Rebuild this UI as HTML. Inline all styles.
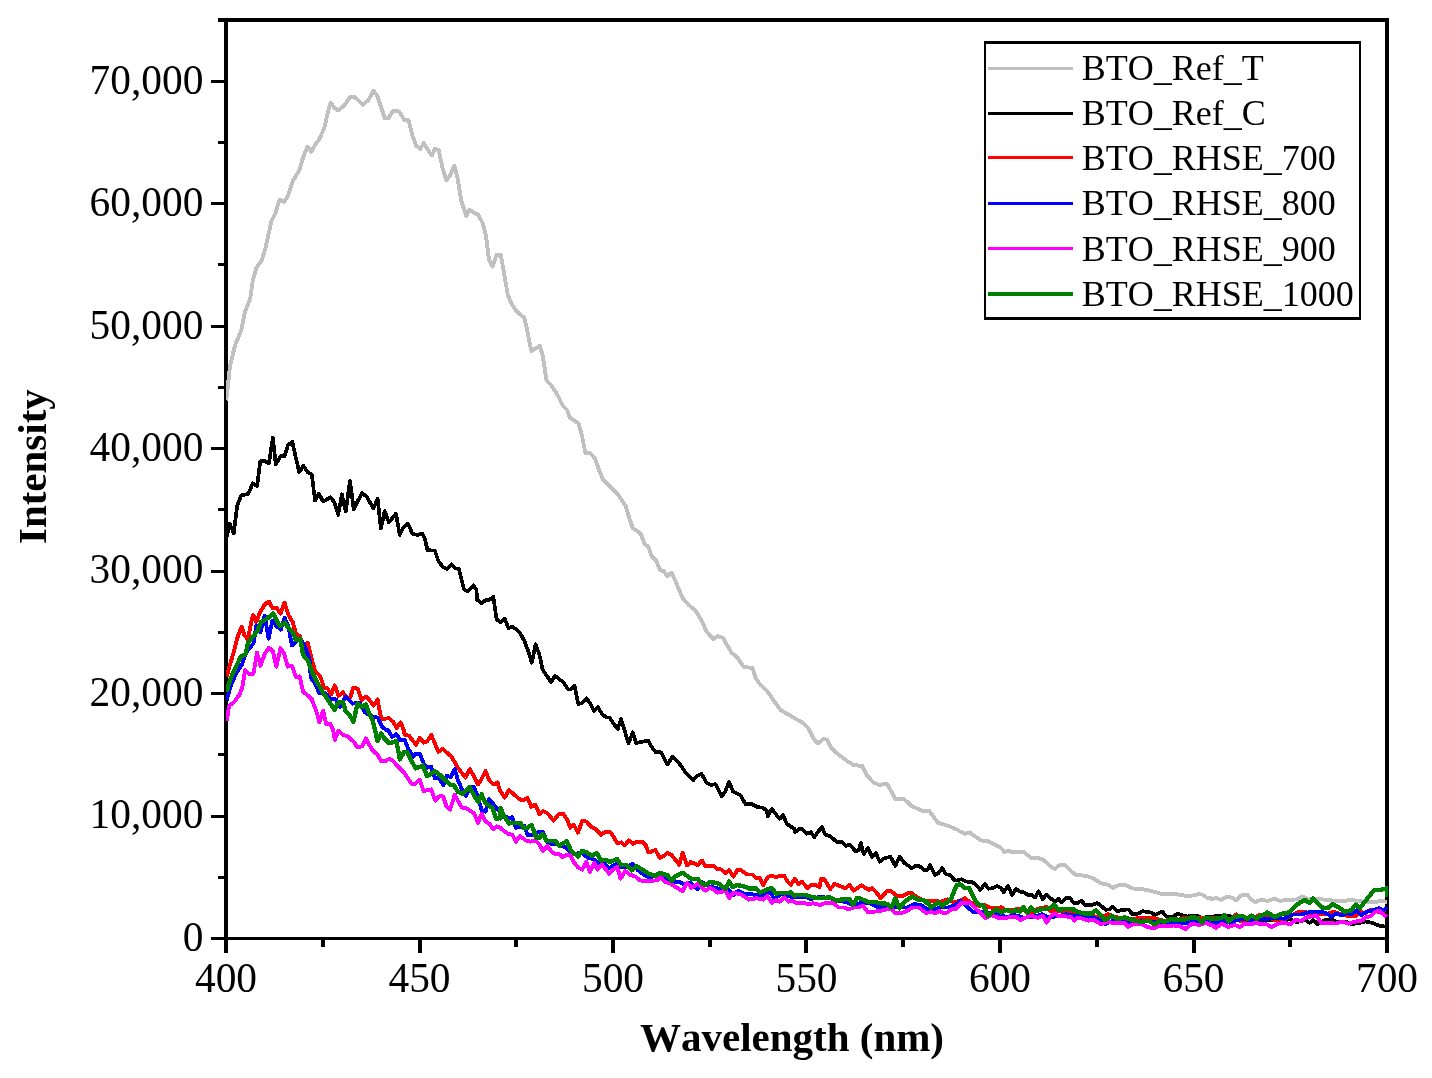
<!DOCTYPE html>
<html lang="en"><head><meta charset="utf-8"><title>PL spectra</title>
<style>html,body{margin:0;padding:0;background:#fff}body{width:1432px;height:1078px;overflow:hidden}</style></head>
<body>
<svg width="1432" height="1078" viewBox="0 0 1432 1078" style="display:block">
<rect width="1432" height="1078" fill="#fff"/>
<g shape-rendering="crispEdges">
<rect x="224" y="18" width="4" height="922" fill="#000"/>
<rect x="1385" y="18" width="4" height="922" fill="#000"/>
<rect x="224" y="18" width="1165" height="4" fill="#000"/>
<rect x="224" y="937" width="1165" height="3" fill="#000"/>
<rect x="211" y="937" width="14" height="3" fill="#000"/>
<rect x="218" y="876" width="7" height="3" fill="#000"/>
<rect x="211" y="815" width="14" height="3" fill="#000"/>
<rect x="218" y="753" width="7" height="3" fill="#000"/>
<rect x="211" y="692" width="14" height="3" fill="#000"/>
<rect x="218" y="631" width="7" height="3" fill="#000"/>
<rect x="211" y="570" width="14" height="3" fill="#000"/>
<rect x="218" y="508" width="7" height="3" fill="#000"/>
<rect x="211" y="447" width="14" height="3" fill="#000"/>
<rect x="218" y="386" width="7" height="3" fill="#000"/>
<rect x="211" y="325" width="14" height="3" fill="#000"/>
<rect x="218" y="263" width="7" height="3" fill="#000"/>
<rect x="211" y="202" width="14" height="3" fill="#000"/>
<rect x="218" y="141" width="7" height="3" fill="#000"/>
<rect x="211" y="80" width="14" height="3" fill="#000"/>
<rect x="218" y="18" width="7" height="4" fill="#000"/>
<rect x="224" y="939" width="4" height="14.3" fill="#000"/>
<rect x="321" y="939" width="4" height="7.7" fill="#000"/>
<rect x="418" y="939" width="4" height="14.3" fill="#000"/>
<rect x="514" y="939" width="4" height="7.7" fill="#000"/>
<rect x="611" y="939" width="4" height="14.3" fill="#000"/>
<rect x="708" y="939" width="4" height="7.7" fill="#000"/>
<rect x="804" y="939" width="4" height="14.3" fill="#000"/>
<rect x="901" y="939" width="4" height="7.7" fill="#000"/>
<rect x="998" y="939" width="4" height="14.3" fill="#000"/>
<rect x="1095" y="939" width="4" height="7.7" fill="#000"/>
<rect x="1192" y="939" width="4" height="14.3" fill="#000"/>
<rect x="1288" y="939" width="4" height="7.7" fill="#000"/>
<rect x="1385" y="939" width="4" height="14.3" fill="#000"/>
</g>
<clipPath id="cp"><rect x="226" y="20" width="1162.2" height="919"/></clipPath>
<g clip-path="url(#cp)" shape-rendering="crispEdges">
<polyline points="226.3,400.4 230.1,365.3 235.1,345.1 241.4,330.0 245.1,311.4 250.2,298.8 252.7,281.2 256.5,267.4 261.5,261.1 265.3,248.5 271.5,220.9 275.3,213.4 279.6,199.5 284.1,202.0 287.9,195.8 292.9,180.7 299.2,170.6 303.0,158.0 307.5,146.7 311.3,151.8 315.5,144.2 319.3,139.2 324.3,127.9 328.1,111.5 330.6,102.7 334.4,107.8 338.2,110.3 344.4,105.3 350.0,97.2 354.5,97.0 358.3,100.2 362.8,104.7 368.3,100.2 373.4,90.9 377.1,95.2 380.9,106.5 384.7,118.3 388.4,118.3 393.0,111.0 399.0,111.5 404.3,119.8 408.5,120.3 412.3,135.4 416.1,145.5 420.4,149.2 423.6,143.0 427.4,149.2 431.9,155.5 434.9,148.7 438.7,150.0 442.5,168.1 446.3,180.2 450.0,175.6 454.3,165.6 457.6,178.2 461.3,200.8 466.4,216.4 469.6,209.6 473.9,212.8 478.2,214.6 482.7,223.4 486.0,236.0 489.0,259.9 492.8,266.6 496.5,254.8 500.8,254.8 504.1,273.7 507.8,295.1 511.6,303.9 516.6,311.4 524.2,317.7 527.2,330.0 531.4,351.0 539.7,346.0 542.7,355.3 546.5,380.4 551.5,385.5 557.8,395.5 562.8,405.6 567.4,410.6 569.9,417.7 578.4,423.2 581.7,434.5 585.5,453.4 590.5,453.4 595.0,458.4 599.3,470.9 603.1,479.7 609.4,486.0 618.2,494.8 625.7,506.1 629.5,518.7 632.7,528.0 640.8,533.8 644.6,543.9 648.3,546.4 651.6,555.9 655.9,560.2 659.6,569.0 660.1,570.1 663.8,571.3 667.1,576.3 671.4,572.6 675.1,580.1 682.7,598.2 689.0,605.3 695.3,610.3 701.5,620.3 706.6,631.6 713.4,639.2 717.9,636.2 722.9,637.9 731.7,653.0 736.7,656.8 743.5,666.8 752.6,668.1 755.6,678.2 760.6,684.9 766.9,690.7 775.7,703.3 780.7,710.1 790.8,715.9 797.1,719.6 802.1,722.2 808.4,728.4 813.4,738.5 817.9,743.5 823.5,739.0 827.2,739.7 831.0,747.3 837.3,753.6 847.3,761.1 853.6,764.9 862.4,766.1 867.5,776.2 873.7,782.5 879.3,785.0 886.8,783.7 891.3,791.3 895.1,798.8 903.9,798.8 911.5,805.9 921.5,810.6 929.1,810.6 937.8,822.7 947.9,825.7 958.0,830.0 959.3,831.2 965.2,833.7 969.4,832.4 981.1,840.4 987.8,841.3 994.5,844.6 1001.2,848.0 1004.6,852.2 1007.9,850.5 1012.1,852.2 1020.0,852.2 1024.0,852.2 1030.9,857.7 1037.9,858.0 1043.5,859.8 1050.5,866.5 1054.7,868.9 1060.3,864.7 1065.2,865.0 1070.1,870.3 1075.6,874.8 1082.6,875.5 1088.9,876.6 1093.8,878.7 1100.8,883.3 1107.8,884.7 1112.7,887.8 1117.5,885.7 1121.7,884.7 1125.9,885.3 1132.9,888.5 1142.7,889.2 1152.5,891.3 1162.2,894.1 1172.0,893.6 1179.0,894.7 1186.0,895.9 1194.4,895.4 1198.5,894.1 1202.7,894.7 1206.9,897.8 1210.0,897.8 1211.8,899.2 1215.9,897.8 1220.8,899.9 1227.1,896.6 1232.0,897.8 1236.2,900.3 1241.8,895.0 1247.4,895.0 1250.9,899.2 1255.1,902.0 1260.6,899.9 1267.6,900.8 1274.6,898.9 1280.2,900.8 1287.2,899.9 1297.0,899.4 1301.8,896.4 1306.7,898.5 1316.5,898.5 1326.3,899.9 1334.7,900.8 1341.6,901.3 1351.4,899.9 1359.8,901.3 1368.2,901.7 1375.2,902.0 1382.2,900.8 1387.0,902.0" fill="none" stroke="#c0c0c0" stroke-width="3.9" stroke-linejoin="round" stroke-linecap="butt"/>
<polyline points="227.0,536.2 229.6,523.6 233.8,533.2 237.1,506.0 241.4,495.2 248.2,494.0 252.7,483.4 257.2,485.9 260.2,461.3 265.3,461.3 269.0,463.3 272.8,437.7 275.8,464.6 280.3,456.3 284.6,456.3 287.9,445.2 292.4,441.9 295.4,455.8 299.2,472.1 303.5,465.8 307.5,472.1 311.8,474.6 315.0,500.5 318.8,493.5 323.1,501.5 330.6,497.2 334.4,502.3 338.2,514.8 341.9,494.2 345.7,511.6 350.0,480.9 353.7,509.1 357.8,501.0 362.0,493.0 367.1,497.2 373.4,508.5 377.6,499.0 380.9,528.7 384.7,511.1 388.9,522.4 396.0,513.6 399.7,534.9 403.5,527.4 408.0,523.6 412.3,533.7 417.3,534.9 422.4,533.7 424.9,538.7 427.4,550.0 434.9,550.8 438.7,561.8 443.7,567.6 447.5,568.9 451.3,564.4 455.1,568.4 458.8,568.9 463.9,589.0 467.6,591.5 473.4,585.2 476.4,590.0 477.2,599.8 481.5,603.4 485.3,600.3 489.0,600.3 493.3,596.6 496.6,619.2 500.3,622.5 504.6,618.7 508.4,628.0 512.4,626.7 516.7,629.7 520.4,633.5 524.2,640.6 528.0,650.6 531.8,662.7 535.5,644.3 539.3,654.4 542.6,669.5 546.8,675.8 551.1,682.0 555.1,675.8 559.4,679.5 563.2,682.0 568.2,689.6 570.7,689.6 574.5,685.8 578.3,703.9 582.0,703.4 586.3,698.4 590.1,702.9 593.9,710.9 597.9,707.2 602.2,714.2 605.9,717.2 609.7,717.7 613.5,723.5 617.7,729.1 621.0,719.0 624.8,731.1 628.5,743.6 632.8,732.3 636.1,743.1 641.1,741.9 648.2,740.6 651.2,746.1 655.4,751.9 661.2,752.4 667.5,764.5 672.5,756.7 677.6,761.2 681.3,766.3 686.4,773.8 693.4,780.1 696.4,776.3 701.5,773.8 706.5,782.6 711.5,785.1 715.3,783.9 721.6,796.4 725.3,791.4 729.1,781.8 732.9,791.4 740.4,795.2 745.4,804.0 751.7,804.0 757.3,807.0 763.0,807.7 766.8,811.0 767.7,816.4 771.9,808.9 779.5,818.9 783.2,815.2 787.0,824.0 794.6,829.0 795.1,832.1 799.3,828.7 802.6,829.2 806.8,833.7 811.0,832.1 814.4,837.1 818.5,831.2 821.9,827.0 825.3,834.6 830.3,836.3 837.0,842.1 842.0,841.8 846.2,846.0 849.6,844.6 855.4,851.0 858.8,850.5 860.8,843.0 863.8,853.9 868.0,848.0 872.2,857.2 876.0,853.0 879.7,861.7 884.7,858.0 890.6,856.9 895.3,865.9 899.8,856.4 904.0,862.6 911.6,868.1 915.8,865.9 919.9,866.4 924.1,870.3 927.5,869.8 930.0,864.7 935.0,874.8 938.4,873.1 942.2,868.1 945.9,874.0 950.1,875.3 955.1,880.7 961.8,879.3 966.0,881.5 972.7,882.3 976.9,885.7 980.3,889.9 984.8,884.0 988.7,888.7 992.8,888.2 997.0,886.0 1001.2,888.2 1003.7,892.4 1007.9,885.7 1012.1,894.9 1016.0,889.1 1020.0,891.6 1023.3,892.0 1027.5,894.7 1031.6,894.7 1035.1,897.5 1038.6,891.3 1042.8,899.6 1046.3,894.5 1049.8,897.5 1054.7,901.7 1058.2,898.7 1061.7,902.4 1065.9,898.2 1070.1,898.2 1074.2,903.4 1077.7,903.1 1081.2,900.6 1085.4,905.2 1092.4,904.8 1097.3,903.1 1101.5,906.2 1105.7,909.8 1109.2,909.4 1112.7,906.6 1117.5,911.2 1121.7,910.1 1128.7,909.4 1132.2,914.0 1138.5,913.6 1142.7,911.2 1151.1,912.6 1155.3,915.0 1158.0,913.6 1162.2,911.5 1166.4,916.4 1173.4,916.4 1177.6,913.6 1181.8,915.0 1187.4,916.4 1193.0,915.7 1197.2,915.7 1201.3,917.8 1211.8,916.6 1225.0,915.2 1228.5,915.9 1256.5,921.5 1267.6,920.1 1278.8,920.8 1290.0,919.4 1297.0,922.2 1305.3,920.1 1309.5,922.9 1313.4,920.1 1317.9,924.3 1324.9,920.1 1331.9,919.4 1336.1,921.5 1345.8,921.5 1351.4,924.3 1359.8,922.9 1365.4,921.5 1372.4,922.9 1379.4,925.7 1386.6,926.8" fill="none" stroke="#000" stroke-width="3.7" stroke-linejoin="round" stroke-linecap="butt"/>
<polyline points="226.7,676.4 229.8,665.2 234.0,651.2 237.5,637.3 241.6,626.8 244.4,635.2 247.9,639.4 250.7,624.7 253.1,614.9 256.3,621.9 259.8,612.8 264.7,604.4 268.9,601.6 272.8,608.6 276.6,607.9 280.5,613.5 284.5,602.6 288.4,614.9 292.6,621.9 296.1,633.8 299.6,635.9 303.8,647.0 307.7,642.6 311.5,658.2 315.0,670.8 319.9,675.7 324.1,687.5 327.5,688.2 331.0,694.5 334.8,685.4 338.4,695.9 342.9,692.4 346.4,697.3 349.9,698.4 353.4,687.5 357.6,688.7 361.8,700.1 365.9,696.6 369.4,700.1 373.6,705.7 377.5,699.4 381.3,719.0 389.0,718.3 393.2,721.8 396.7,728.0 400.6,722.5 403.7,730.0 404.7,734.9 408.9,735.6 415.9,744.7 419.8,737.7 423.6,742.6 427.1,741.2 431.3,734.9 434.8,743.3 438.3,751.7 442.5,748.9 446.6,752.4 451.5,756.6 457.8,767.7 465.5,777.5 469.7,769.1 473.9,776.1 478.1,784.5 481.6,778.9 485.5,770.9 489.2,780.3 493.4,784.5 497.6,782.4 500.0,790.8 501.2,792.1 504.7,797.7 508.9,790.0 513.0,793.5 519.3,799.1 523.5,800.5 527.4,797.7 531.2,806.8 535.4,804.7 539.6,814.5 543.1,811.0 547.3,813.1 553.5,820.8 559.1,813.8 563.3,813.8 567.5,820.1 570.3,827.7 573.8,824.9 578.0,832.6 582.2,820.8 586.4,821.5 590.6,826.3 595.4,829.1 601.0,834.7 605.2,831.9 610.1,831.9 613.6,836.8 617.1,843.1 621.3,842.4 624.8,845.5 628.7,840.3 633.2,843.8 637.3,841.7 642.2,841.7 645.7,845.2 648.5,852.5 655.5,850.1 659.7,857.8 663.2,856.4 667.4,852.9 671.6,855.0 679.2,864.7 682.7,852.9 686.9,865.4 690.0,863.4 690.7,861.9 694.2,863.3 697.7,865.4 701.9,860.5 705.4,866.1 713.1,865.7 717.3,868.9 721.5,869.6 725.6,873.1 729.1,869.9 733.3,876.6 737.5,869.9 741.0,870.3 747.3,874.5 752.2,874.5 756.4,878.0 759.9,878.0 763.4,885.0 767.5,877.3 771.0,875.5 775.9,877.3 780.0,875.6 784.2,875.6 787.5,881.5 790.9,884.9 794.7,878.7 798.4,884.0 801.8,881.5 807.7,888.2 811.0,884.9 816.0,884.9 819.4,887.4 821.1,879.0 823.9,879.0 827.8,884.9 830.3,889.1 834.5,884.0 845.4,888.2 849.6,884.9 853.7,890.7 861.3,885.4 868.8,889.9 872.2,888.2 876.4,892.4 880.6,898.3 887.3,890.7 890.6,890.7 897.3,896.1 903.2,895.8 908.2,893.2 911.6,893.2 919.1,898.3 924.1,900.4 930.8,900.8 940.9,901.6 947.6,899.4 954.3,902.5 959.3,900.8 961.8,899.9 965.2,898.3 970.2,902.5 974.4,903.3 979.4,905.8 984.5,905.0 989.5,907.5 997.9,907.8 1001.2,907.2 1005.4,910.0 1014.6,909.5 1020.0,909.2 1032.3,912.9 1037.9,908.7 1046.3,907.0 1050.5,911.5 1054.7,910.1 1070.1,912.9 1085.4,913.6 1099.4,917.8 1107.8,914.3 1116.1,917.1 1125.9,919.9 1135.7,918.5 1144.1,917.8 1155.3,918.5 1163.6,920.6 1177.6,919.9 1184.6,917.8 1210.0,918.5 1211.8,918.0 1231.3,918.7 1236.2,914.5 1241.1,921.5 1245.3,920.1 1253.7,917.3 1259.2,915.2 1267.6,915.9 1274.6,920.1 1285.8,918.7 1292.8,914.5 1299.7,911.7 1306.7,912.4 1316.5,914.5 1324.9,914.5 1333.3,911.7 1340.3,913.8 1347.2,915.9 1355.6,915.9 1360.5,911.7 1365.4,913.1 1371.0,909.6 1378.0,911.7 1386.3,910.3" fill="none" stroke="#ff0000" stroke-width="3.9" stroke-linejoin="round" stroke-linecap="butt"/>
<polyline points="226.7,700.1 231.2,684.1 236.8,672.2 242.3,663.8 244.4,656.8 247.9,649.8 253.5,643.5 256.3,625.4 260.5,632.4 264.7,615.6 268.6,638.7 272.4,620.5 276.6,626.1 280.8,629.6 284.5,617.7 288.4,626.1 291.9,645.6 296.1,641.5 300.3,638.7 303.8,644.2 309.4,658.2 310.8,677.8 315.0,683.4 319.2,693.1 324.7,693.1 330.3,698.7 335.9,699.4 340.1,707.1 345.7,696.6 352.7,703.6 359.7,702.9 365.3,712.7 372.2,716.2 377.8,717.6 382.0,726.6 386.2,730.0 388.0,730.0 392.2,737.0 396.4,734.2 400.6,740.5 404.7,739.8 408.2,748.9 413.1,756.6 415.9,753.8 420.1,753.8 423.6,763.5 427.1,767.7 431.3,767.0 434.8,778.2 439.0,777.5 443.2,785.2 446.6,776.1 450.8,776.8 454.7,769.1 457.8,779.6 462.0,789.4 466.2,795.7 469.7,787.3 473.9,786.6 478.1,797.8 481.6,810.3 485.5,811.7 489.2,799.2 493.4,804.1 496.9,808.2 500.0,811.7 500.5,818.7 504.0,815.2 508.2,818.0 512.3,817.3 515.8,827.7 520.0,827.0 524.2,825.6 527.7,835.4 531.9,834.7 538.9,831.9 543.1,831.9 547.3,842.4 551.5,843.8 557.0,843.8 565.4,847.3 569.6,851.5 575.2,853.6 582.2,852.9 587.8,857.8 593.4,859.2 598.9,863.4 604.5,863.4 609.4,868.2 615.7,864.1 620.6,867.5 626.2,867.5 632.5,864.1 638.0,870.3 643.6,874.5 649.2,877.3 656.2,875.9 663.2,876.6 667.4,880.1 674.4,882.2 679.9,882.2 685.5,885.0 690.0,882.9 690.7,882.9 697.7,889.2 701.9,882.2 708.9,886.4 715.9,887.8 721.5,889.9 728.4,889.2 733.3,895.4 738.2,890.6 743.8,893.4 750.8,894.1 757.8,895.4 763.4,894.7 770.3,892.0 773.8,898.2 778.7,896.1 780.0,894.1 790.1,896.6 796.8,897.4 805.1,896.6 811.0,899.1 820.2,896.6 830.3,898.3 838.7,900.8 847.0,902.1 853.7,905.8 862.1,902.5 870.5,903.3 876.4,906.6 883.9,906.6 888.9,905.8 897.3,907.5 907.4,907.5 914.1,904.1 920.8,905.0 925.8,908.3 930.8,910.0 940.9,907.5 947.6,907.5 954.3,905.8 961.0,900.8 966.0,905.8 972.7,911.7 981.1,911.7 987.8,913.4 997.9,913.4 1006.3,917.5 1014.6,915.0 1020.0,916.7 1024.0,917.8 1035.1,916.4 1042.1,914.3 1047.7,917.1 1057.5,916.4 1065.9,914.3 1074.2,915.7 1085.4,917.1 1096.6,918.5 1105.0,924.1 1113.4,920.6 1121.7,921.3 1128.7,923.4 1138.5,920.6 1149.7,921.3 1158.0,922.7 1166.4,923.4 1174.8,923.4 1183.2,923.4 1191.6,922.0 1198.5,920.6 1205.5,920.6 1210.0,922.0 1211.8,921.5 1215.9,923.6 1222.9,920.4 1229.9,922.9 1236.9,920.1 1243.9,918.7 1250.9,920.1 1257.8,918.7 1267.6,918.7 1276.0,918.0 1284.4,918.7 1292.8,914.5 1301.1,914.5 1308.1,912.4 1313.7,911.5 1320.7,911.7 1326.3,913.1 1331.2,916.6 1336.1,913.8 1341.6,915.2 1347.2,913.1 1351.4,914.5 1356.3,910.3 1361.2,915.2 1366.8,911.7 1372.4,910.3 1379.4,908.2 1383.5,910.3 1386.6,907.3" fill="none" stroke="#0000ff" stroke-width="3.9" stroke-linejoin="round" stroke-linecap="butt"/>
<polyline points="226.7,721.1 229.1,705.7 234.0,702.2 239.6,694.5 242.3,687.5 245.1,670.1 249.3,674.3 253.5,673.6 257.0,652.6 260.5,665.9 264.7,654.0 268.9,647.7 272.8,651.2 276.3,666.6 280.5,648.2 284.2,654.0 287.7,666.6 291.9,665.9 296.1,677.1 299.6,676.4 303.1,691.7 307.3,695.2 311.5,698.7 316.4,711.3 319.4,722.5 323.1,710.6 326.1,723.9 330.3,723.9 333.1,730.0 334.9,739.8 338.4,730.7 343.3,734.9 347.5,736.3 353.8,741.9 357.5,747.5 362.2,746.1 365.9,738.4 368.4,743.3 372.6,750.3 377.5,754.5 381.0,760.8 384.5,761.5 389.4,758.7 392.9,760.8 397.8,766.3 404.7,773.3 408.2,778.9 411.7,783.8 415.2,783.8 419.8,779.6 423.6,791.5 427.1,790.1 431.3,789.4 435.2,800.6 439.0,796.4 443.2,796.4 446.6,806.8 450.1,809.6 454.7,795.0 457.8,800.6 462.0,807.5 466.2,808.2 473.9,813.1 478.1,822.9 481.6,813.8 485.5,821.5 489.2,823.6 493.4,829.2 496.9,826.4 500.0,827.8 502.6,829.8 508.2,834.0 512.3,834.7 515.8,841.7 520.0,836.1 525.6,840.3 530.5,841.7 535.4,840.7 538.9,843.8 542.8,850.8 547.3,845.9 550.8,850.8 554.2,853.6 559.1,853.9 562.6,857.1 566.8,855.0 570.3,855.0 573.8,862.0 578.0,867.5 582.2,869.6 586.4,862.0 589.9,871.7 594.1,862.7 597.5,869.6 601.7,864.1 605.9,869.6 609.4,873.8 612.9,869.6 617.1,866.8 620.6,878.7 625.2,871.0 629.7,874.5 635.3,876.6 640.1,880.4 647.8,881.5 657.6,880.1 660.4,877.0 664.6,881.5 670.2,883.6 675.8,887.1 682.7,891.3 686.9,882.9 690.0,885.7 690.7,887.8 694.2,886.4 697.7,883.6 701.9,887.8 705.4,890.6 709.6,887.8 713.1,889.2 717.3,892.7 721.5,892.0 725.6,889.9 729.1,898.2 733.3,892.7 740.3,894.1 743.8,896.1 748.7,899.6 756.4,898.2 763.4,899.6 767.5,896.1 771.7,902.8 775.9,900.3 779.4,901.7 780.0,901.6 784.2,897.4 788.4,901.6 792.6,900.8 796.8,903.3 801.8,902.5 808.5,904.1 813.5,903.3 820.2,905.0 826.9,902.5 833.6,903.3 838.7,907.5 843.7,907.5 848.7,909.2 853.7,907.5 858.8,907.5 863.0,905.5 868.0,912.5 873.9,911.7 880.6,910.8 887.3,909.2 891.5,909.2 895.6,913.4 900.7,913.4 907.4,910.8 912.4,907.5 919.1,907.5 925.8,912.8 930.8,912.2 935.9,913.0 939.2,910.8 942.6,912.8 947.6,912.5 950.9,909.5 956.0,908.8 961.8,902.8 970.2,903.3 975.3,908.3 981.1,913.4 985.3,918.4 991.2,915.0 999.6,918.4 1007.9,917.5 1016.3,916.7 1020.0,920.1 1025.4,917.8 1030.9,915.7 1037.9,917.8 1042.8,915.7 1046.6,922.7 1050.5,916.4 1054.7,913.6 1058.9,916.4 1065.9,916.4 1071.5,917.4 1074.2,920.6 1077.7,917.8 1082.6,918.5 1088.2,920.6 1093.8,919.9 1100.8,924.1 1107.8,922.0 1116.1,923.4 1124.5,922.7 1128.0,926.9 1132.9,924.1 1141.3,924.1 1147.6,926.9 1153.9,928.3 1159.4,925.5 1166.4,926.2 1173.4,925.5 1180.4,926.2 1185.3,929.0 1191.6,924.1 1199.9,924.8 1205.5,922.7 1210.0,924.8 1211.8,925.0 1215.9,927.8 1222.2,923.6 1228.5,927.1 1234.8,925.0 1239.7,927.1 1245.3,923.6 1250.9,924.3 1256.5,922.6 1260.6,924.3 1266.2,924.0 1271.1,927.1 1278.8,923.6 1284.4,922.9 1290.0,924.3 1295.6,920.1 1301.1,920.8 1306.7,917.3 1310.9,916.6 1316.5,915.9 1321.4,922.9 1327.7,922.9 1336.1,923.6 1341.6,921.5 1348.6,923.6 1355.6,921.5 1361.2,920.8 1366.1,917.3 1371.0,915.9 1375.2,911.7 1379.4,911.0 1383.5,914.5 1386.6,917.0" fill="none" stroke="#ff00ff" stroke-width="3.9" stroke-linejoin="round" stroke-linecap="butt"/>
<polyline points="226.7,691.7 229.8,680.6 234.0,670.8 240.9,656.5 245.8,654.0 247.9,642.8 253.5,635.9 257.7,630.3 261.2,621.9 267.5,618.4 273.1,613.5 276.6,620.5 280.1,626.1 284.9,622.6 288.4,628.2 292.6,631.7 296.1,640.1 300.3,638.7 303.1,654.7 308.0,661.0 312.2,672.2 317.8,683.4 324.1,694.5 328.2,700.1 334.5,709.9 338.7,702.2 342.9,701.8 345.7,711.3 349.9,715.5 353.4,721.8 357.6,703.6 361.8,707.1 365.9,704.3 369.4,714.1 372.9,721.1 375.0,730.0 377.5,741.2 381.0,733.5 383.8,737.7 389.4,743.3 396.4,741.2 399.9,759.4 404.1,751.7 407.5,752.4 411.7,761.5 415.9,768.4 422.9,765.6 427.1,776.1 434.8,771.2 439.7,774.7 445.3,780.3 450.1,784.5 454.3,785.5 457.8,791.9 462.7,793.6 469.7,787.3 473.9,795.0 478.1,802.0 481.6,794.3 485.5,803.4 492.7,808.2 496.2,818.7 500.0,818.0 500.5,808.2 504.0,815.9 508.9,823.5 513.7,822.8 520.0,822.8 524.2,828.4 527.7,827.7 531.6,824.9 536.1,837.5 538.9,838.2 542.8,834.0 546.6,841.0 551.5,841.0 555.6,841.0 559.1,845.9 562.6,843.8 566.8,841.0 571.0,850.8 578.0,856.4 582.2,850.8 586.4,852.2 591.3,855.7 596.8,852.9 601.0,860.6 605.9,859.9 610.1,862.0 617.1,858.9 620.6,864.7 626.2,864.7 631.8,870.3 636.6,866.1 642.2,869.6 648.5,873.8 655.5,875.9 659.7,872.8 667.4,875.2 671.6,880.8 675.8,875.9 682.7,872.8 690.0,878.0 690.7,878.7 697.7,878.7 701.9,883.6 705.4,885.0 709.6,882.2 717.3,882.9 721.5,885.7 725.6,889.2 729.4,881.5 732.6,887.1 736.8,885.0 743.8,886.4 749.4,888.5 755.7,888.5 759.9,892.7 766.1,889.9 771.7,887.8 775.9,893.4 780.0,893.2 786.7,893.2 790.9,892.4 794.2,895.8 797.6,894.9 805.1,894.9 813.5,897.4 819.4,898.3 830.3,897.4 837.0,900.8 841.2,899.4 849.6,899.1 852.9,905.0 857.1,897.9 860.4,898.6 868.8,902.1 875.5,902.1 880.6,903.3 887.3,903.8 891.5,907.5 895.3,898.3 899.3,908.3 905.7,900.8 912.4,896.6 919.1,899.9 923.3,899.9 925.8,902.5 927.5,901.6 930.8,907.5 938.4,902.5 942.6,905.8 950.9,899.1 956.8,884.9 960.2,884.5 964.4,887.7 969.4,888.2 974.4,899.1 977.8,904.1 983.6,905.8 987.8,915.9 996.2,909.2 1001.2,912.5 1006.3,910.0 1011.3,911.7 1016.3,910.0 1020.0,911.7 1023.3,907.0 1027.5,912.9 1030.9,907.3 1035.1,911.5 1040.7,909.4 1047.7,908.7 1051.2,907.3 1054.4,904.8 1058.2,909.8 1065.9,908.7 1073.5,909.4 1078.4,912.2 1084.0,913.6 1091.7,913.6 1095.9,910.4 1100.8,915.0 1105.0,920.2 1112.0,915.7 1117.5,919.2 1124.5,917.4 1131.5,919.9 1141.3,922.0 1148.3,920.6 1154.6,924.4 1160.1,920.6 1164.3,922.0 1170.6,919.2 1180.4,919.9 1187.4,919.2 1191.6,917.4 1197.2,917.8 1202.0,922.4 1204.8,918.2 1210.0,918.2 1210.4,919.4 1215.3,918.7 1220.8,918.0 1225.0,915.6 1228.5,921.5 1233.4,917.0 1242.5,915.9 1247.4,918.7 1251.6,915.6 1256.5,918.7 1259.9,915.9 1263.4,915.2 1267.3,912.4 1274.6,917.0 1281.6,913.8 1287.9,913.1 1298.4,903.6 1305.3,899.9 1309.5,903.1 1313.4,898.5 1321.4,907.3 1327.7,908.2 1332.6,904.1 1338.9,907.5 1344.4,911.7 1351.4,910.3 1355.6,904.7 1359.8,908.2 1366.8,899.2 1374.5,889.8 1380.8,889.8 1386.3,888.3 1387.6,896.5" fill="none" stroke="#008000" stroke-width="4.4" stroke-linejoin="round" stroke-linecap="butt"/>
</g>
<g font-family="Liberation Serif, serif" font-size="41.4" fill="#000" style="font-kerning:none">
<text x="203.4" y="950.8" text-anchor="end">0</text>
<text x="203.4" y="828.3" text-anchor="end">10,000</text>
<text x="203.4" y="705.9" text-anchor="end">20,000</text>
<text x="203.4" y="583.4" text-anchor="end">30,000</text>
<text x="203.4" y="460.9" text-anchor="end">40,000</text>
<text x="203.4" y="338.5" text-anchor="end">50,000</text>
<text x="203.4" y="216.0" text-anchor="end">60,000</text>
<text x="203.4" y="93.5" text-anchor="end">70,000</text>
<text x="226.0" y="992.2" text-anchor="middle">400</text>
<text x="419.5" y="992.2" text-anchor="middle">450</text>
<text x="613.0" y="992.2" text-anchor="middle">500</text>
<text x="806.5" y="992.2" text-anchor="middle">550</text>
<text x="1000.0" y="992.2" text-anchor="middle">600</text>
<text x="1193.5" y="992.2" text-anchor="middle">650</text>
<text x="1387.0" y="992.2" text-anchor="middle">700</text>
</g>
<g font-family="Liberation Serif, serif" font-weight="bold" font-size="41" fill="#000" style="font-kerning:none">
<text x="792" y="1050.8" text-anchor="middle">Wavelength (nm)</text>
<text transform="translate(45.9,466.6) rotate(-90)" text-anchor="middle">Intensity</text>
</g>
<g shape-rendering="crispEdges">
<rect x="984" y="41" width="377" height="278.5" fill="#000"/>
<rect x="986" y="44" width="373" height="273" fill="#fff"/>
<rect x="988" y="67" width="85" height="3" fill="#c0c0c0"/>
<rect x="988" y="112" width="85" height="3" fill="#000"/>
<rect x="988" y="156" width="85" height="3" fill="#ff0000"/>
<rect x="988" y="202" width="85" height="3" fill="#0000ff"/>
<rect x="988" y="247" width="85" height="3" fill="#ff00ff"/>
<rect x="988" y="292" width="85" height="4" fill="#008000"/>
</g>
<g font-family="Liberation Serif, serif" font-size="36" fill="#000" style="font-kerning:none">
<text x="1081.8" y="80.3">BTO_Ref_T</text>
<text x="1081.8" y="125.3">BTO_Ref_C</text>
<text x="1081.8" y="170.4">BTO_RHSE_700</text>
<text x="1081.8" y="215.4">BTO_RHSE_800</text>
<text x="1081.8" y="260.5">BTO_RHSE_900</text>
<text x="1081.8" y="305.6">BTO_RHSE_1000</text>
</g>
</svg>
</body></html>
